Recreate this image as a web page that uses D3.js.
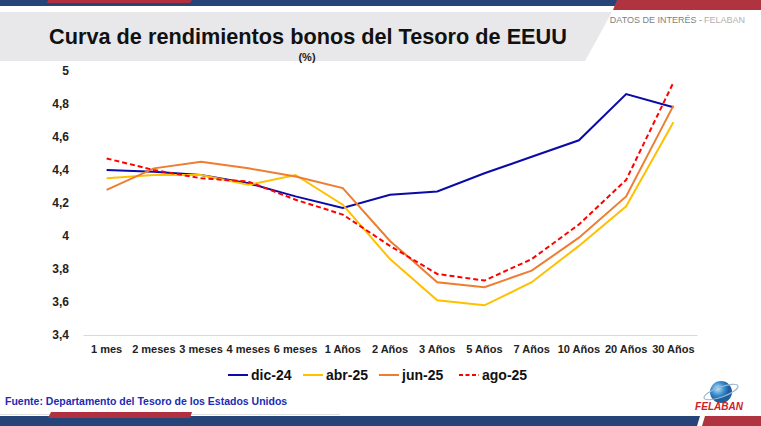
<!DOCTYPE html>
<html>
<head>
<meta charset="utf-8">
<script src="https://cdn.jsdelivr.net/npm/d3@7"></script>
<style>
  body { margin: 0; background: #fff; }
  svg { display: block; font-family: "Liberation Sans Narrow", "Liberation Sans", Arial, sans-serif; }
</style>
</head>
<body>
<div id="chart"></div>
<script>
// Chart size
var width = 761;
var height = 426;

// Data
var categories = ["1 mes", "2 meses", "3 meses", "4 meses", "6 meses", "1 Años", "2 Años",
                  "3 Años", "5 Años", "7 Años", "10 Años", "20 Años", "30 Años"];
var seriesNames = ["dic-24", "abr-25", "jun-25", "ago-25"];
var dic24 = [4.40, 4.39, 4.37, 4.32, 4.24, 4.17, 4.25, 4.27, 4.38, 4.48, 4.58, 4.86, 4.78];
var abr25 = [4.35, 4.37, 4.37, 4.31, 4.37, 4.19, 3.86, 3.61, 3.58, 3.72, 3.94, 4.18, 4.69];
var jun25 = [4.28, 4.41, 4.45, 4.41, 4.36, 4.29, 3.97, 3.72, 3.69, 3.79, 3.99, 4.24, 4.79];
var ago25 = [4.47, 4.40, 4.35, 4.33, 4.22, 4.13, 3.94, 3.77, 3.73, 3.86, 4.07, 4.34, 4.93];
var yTicks = [3.4, 3.6, 3.8, 4, 4.2, 4.4, 4.6, 4.8, 5];

var series = [
  { name: seriesNames[0], values: dic24, color: "#0a0aa6", dash: null },
  { name: seriesNames[1], values: abr25, color: "#ffc000", dash: null },
  { name: seriesNames[2], values: jun25, color: "#ed7d31", dash: null },
  { name: seriesNames[3], values: ago25, color: "#ff0000", dash: "5,3" }
];

var svg = d3.select("#chart")
  .append("svg")
  .attr("width", width)
  .attr("height", height);

// Header decoration
svg.append("rect").attr("x", 0).attr("y", 0).attr("width", width).attr("height", 6).attr("fill", "#264478");
svg.append("polygon").attr("points", "48,0 192,0 190,3 47,3").attr("fill", "#b03040");
svg.append("polygon").attr("points", "617,0 761,0 761,10 613,10").attr("fill", "#b0343f");
svg.append("polygon").attr("points", "0,12 612,12 585,61 0,61").attr("fill", "#e8e8ea");

// Title, sized so it spans about 518px like the reference
var title = svg.append("text")
  .attr("x", 308).attr("y", 44)
  .attr("text-anchor", "middle")
  .attr("font-size", 25)
  .attr("font-weight", "bold")
  .attr("fill", "#111")
  .text("Curva de rendimientos bonos del Tesoro de EEUU");
var titleW = title.node().getComputedTextLength();
title.attr("font-size", Math.min(25, 25 * 518 / titleW));

svg.append("text")
  .attr("x", 307).attr("y", 61)
  .attr("text-anchor", "middle")
  .attr("font-size", 11)
  .attr("font-weight", "bold")
  .attr("fill", "#222")
  .text("(%)");

// "DATOS DE INTERÉS - FELABAN" as two texts
var tagRight = svg.append("text")
  .attr("x", 745).attr("y", 23)
  .attr("text-anchor", "end")
  .attr("font-size", 9)
  .attr("fill", "#b0b0b0")
  .text("FELABAN");
var tagW = tagRight.node().getComputedTextLength();
svg.append("text")
  .attr("x", 745 - tagW - 2).attr("y", 23)
  .attr("text-anchor", "end")
  .attr("font-size", 9)
  .attr("fill", "#7f7f7f")
  .text("DATOS DE INTERÉS -");

// Scales
var x = d3.scaleBand()
  .domain(categories)
  .range([83, 697]);

var y = d3.scaleLinear()
  .domain([3.4, 5])
  .range([335, 71]);

// Y axis
var yAxis = svg.append("g")
  .attr("transform", "translate(72,0)")
  .call(d3.axisLeft(y).tickValues(yTicks).tickSize(0).tickFormat(function(d) {
    return String(d).replace(".", ",");
  }));
yAxis.select(".domain").remove();
yAxis.selectAll("text")
  .attr("font-size", 12)
  .attr("font-weight", "bold")
  .attr("fill", "#222")
  .attr("font-family", "Liberation Sans Narrow, Liberation Sans, Arial");

// X axis
var xAxis = svg.append("g")
  .attr("transform", "translate(0,335)")
  .call(d3.axisBottom(x).tickSize(0).tickPadding(10));
xAxis.select(".domain").attr("stroke", "#d9d9d9").attr("stroke-width", 1);
xAxis.selectAll("text")
  .attr("font-size", 11)
  .attr("font-weight", "bold")
  .attr("fill", "#222")
  .attr("font-family", "Liberation Sans Narrow, Liberation Sans, Arial");

// Lines
var line = d3.line()
  .x(function(d, i) { return x(categories[i]) + x.bandwidth() / 2; })
  .y(function(d) { return y(d); });

svg.selectAll("path.serie")
  .data(series)
  .enter()
  .append("path")
  .attr("class", "serie")
  .attr("d", function(d) { return line(d.values); })
  .attr("fill", "none")
  .attr("stroke", function(d) { return d.color; })
  .attr("stroke-width", 2)
  .attr("stroke-dasharray", function(d) { return d.dash; });

// Legend
var legendX = [228, 303, 379, 459];
var legend = svg.selectAll("g.legend")
  .data(series)
  .enter()
  .append("g")
  .attr("class", "legend")
  .attr("transform", function(d, i) { return "translate(" + legendX[i] + ",375)"; });
legend.append("line")
  .attr("x1", 0).attr("x2", 20)
  .attr("stroke", function(d) { return d.color; })
  .attr("stroke-width", 2)
  .attr("stroke-dasharray", function(d) { return d.dash ? "4,2.5" : null; });
legend.append("text")
  .attr("x", 23).attr("y", 5)
  .attr("font-size", 14)
  .attr("font-weight", "bold")
  .attr("fill", "#111")
  .text(function(d) { return d.name; });

// Source
svg.append("text")
  .attr("x", 5).attr("y", 405)
  .attr("font-size", 10.5)
  .attr("font-weight", "bold")
  .attr("fill", "#1c2ab4")
  .text("Fuente: Departamento del Tesoro de los Estados Unidos");

// Footer decoration
svg.append("rect").attr("x", 0).attr("y", 414).attr("width", 340).attr("height", 1).attr("fill", "#e0e0e0");
svg.append("polygon").attr("points", "0,416 700,416 697,426 0,426").attr("fill", "#264478");
svg.append("polygon").attr("points", "51,412 192,412 190,418 48,418").attr("fill", "#b03040");
svg.append("polygon").attr("points", "705,416 761,416 761,426 702,426").attr("fill", "#b0343f");

// Logo
var defs = svg.append("defs");
var grad = defs.append("radialGradient").attr("id", "globe").attr("cx", "35%").attr("cy", "35%");
grad.append("stop").attr("offset", "0%").attr("stop-color", "#bfe3f7");
grad.append("stop").attr("offset", "60%").attr("stop-color", "#3a8fd0");
grad.append("stop").attr("offset", "100%").attr("stop-color", "#1c5fa0");
var logo = svg.append("g").attr("transform", "translate(721,392)");
logo.append("circle").attr("r", 11).attr("fill", "url(#globe)");
logo.append("ellipse")
  .attr("rx", 18).attr("ry", 5)
  .attr("transform", "rotate(-20)")
  .attr("fill", "none")
  .attr("stroke", "#9fb6cc")
  .attr("stroke-width", 1.2);
svg.append("text")
  .attr("x", 719).attr("y", 410)
  .attr("text-anchor", "middle")
  .attr("font-size", 10)
  .attr("font-weight", "bold")
  .attr("font-style", "italic")
  .attr("fill", "#d0202a")
  .text("FELABAN");
</script>
</body>
</html>
